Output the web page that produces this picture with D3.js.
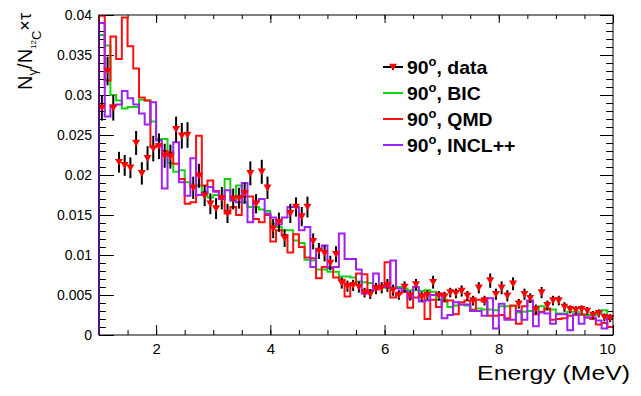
<!DOCTYPE html>
<html><head><meta charset="utf-8">
<script src="https://cdn.jsdelivr.net/npm/d3@7"></script>
<style>body{margin:0;background:#fff}svg{display:block}text{font-family:"Liberation Sans",Arial,sans-serif}</style>
</head><body>
<svg id="c" width="641" height="396"></svg>
<script>
// bin edges: 90 bins of 0.1 MeV from 1 to 10
const binLow = d3.range(90).map(i => +(1 + 0.1 * i).toFixed(1));
const dataVals = [0.0284,0.033,0.0284,0.0216,0.0212,0.0209,0.024,0.0202,0.0221,0.0233,
0.0236,0.0224,0.0223,0.0257,0.0249,0.025,0.0184,0.0199,0.0174,0.0164,
0.0158,0.0171,0.0152,0.017,0.0171,0.0177,0.0202,0.0164,0.0204,0.0184,
0.0133,0.0141,0.0121,0.0152,0.016,0.0148,0.016,0.0117,0.0105,0.0102,
0.009,0.0101,0.0065,0.0061,0.0062,0.006,0.0053,0.0051,0.0058,0.0059,
0.0062,0.0056,0.005,0.006,0.0049,0.0063,0.0048,0.005,0.0066,0.0049,
0.0048,0.0053,0.0052,0.0055,0.0049,0.0043,0.0059,0.0043,0.0068,0.0051,
0.0059,0.0049,0.0064,0.0039,0.0051,0.0046,0.0032,0.0053,0.0037,0.0043,
0.0043,0.0035,0.0032,0.0031,0.0032,0.003,0.0025,0.0027,0.0022,0.0021];
const dataErr = [0.0016,0.0018,0.0016,0.0013,0.0013,0.0013,0.0015,0.0014,0.0015,0.0016,
0.0016,0.0015,0.0015,0.0016,0.0016,0.0016,0.0014,0.0015,0.0013,0.0013,
0.0013,0.0014,0.0012,0.0013,0.0013,0.0013,0.0015,0.0012,0.0015,0.0014,
0.0012,0.0012,0.0011,0.0012,0.0012,0.0012,0.0013,0.001,0.001,0.001,
0.0009,0.001,0.0007,0.0007,0.0007,0.0007,0.0006,0.0006,0.0007,0.0007,
0.0008,0.0007,0.0006,0.0007,0.0006,0.0007,0.0006,0.0006,0.0008,0.0006,
0.0006,0.0006,0.0006,0.0007,0.0006,0.0006,0.0007,0.0006,0.0009,0.0007,
0.0008,0.0007,0.0008,0.0006,0.0007,0.0006,0.0006,0.0007,0.0006,0.0006,
0.0006,0.0006,0.0005,0.0005,0.0005,0.0005,0.0005,0.0005,0.0005,0.0005];
const bicVals = [0.0375,0.0362,0.030,0.0293,0.0283,0.0285,0.0285,0.0294,0.0293,0.0267,
0.0245,0.0245,0.0215,0.0204,0.0206,0.0191,0.0185,0.0187,0.0179,0.0172,
0.0175,0.0172,0.0195,0.0168,0.0187,0.0166,0.016,0.016,0.0157,0.0155,
0.0139,0.0135,0.0131,0.0131,0.0118,0.0115,0.0094,0.0093,0.0082,0.0082,
0.0079,0.0079,0.0073,0.0073,0.0072,0.0067,0.0066,0.0065,0.0061,0.0061,
0.0059,0.0059,0.006,0.0058,0.0056,0.0056,0.0055,0.0056,0.0054,0.0044,
0.0044,0.0035,0.0037,0.0038,0.0037,0.0032,0.0033,0.0032,0.0032,0.0031,
0.0036,0.0036,0.0036,0.0028,0.0029,0.003,0.0029,0.0036,0.0032,0.0032,
0.0027,0.0027,0.0029,0.0029,0.0025,0.0025,0.0025,0.0027,0.0031,0.0022];
const qmdVals = [0.0399,0.0318,0.0373,0.0345,0.0397,0.0361,0.0333,0.0297,0.0293,0.0235,
0.0237,0.023,0.0228,0.0214,0.0195,0.0164,0.0166,0.0249,0.0187,0.0193,
0.018,0.0172,0.0152,0.016,0.015,0.0173,0.0173,0.0145,0.0141,0.015,
0.0117,0.0131,0.0125,0.0103,0.0126,0.011,0.0097,0.0096,0.0071,0.0085,
0.0084,0.0072,0.0069,0.0048,0.0063,0.0077,0.0076,0.0056,0.0057,0.006,
0.0091,0.0047,0.0052,0.0054,0.0034,0.0047,0.0049,0.002,0.0044,0.0035,
0.0042,0.0043,0.0026,0.0041,0.0043,0.0031,0.0044,0.0042,0.0024,0.0024,
0.0025,0.0021,0.0037,0.0014,0.0036,0.0042,0.0026,0.0029,0.0033,0.0019,
0.002,0.0021,0.0024,0.0025,0.0026,0.0022,0.002,0.0013,0.0015,0.001];
const inclVals = [0.039,0.0273,0.0287,0.0288,0.0305,0.0296,0.0288,0.0277,0.0263,0.0291,
0.0243,0.0183,0.0226,0.0241,0.0191,0.0174,0.0221,0.0175,0.0178,0.0185,
0.0179,0.017,0.0181,0.0168,0.0166,0.019,0.0141,0.0167,0.017,0.0152,
0.0147,0.0138,0.0147,0.016,0.016,0.0131,0.0135,0.0085,0.0107,0.0112,
0.0084,0.0085,0.0127,0.0095,0.0095,0.0082,0.0052,0.0055,0.0077,0.006,
0.006,0.0093,0.0058,0.0055,0.0046,0.006,0.0042,0.0043,0.005,0.0052,
0.0021,0.0025,0.0041,0.0038,0.0038,0.003,0.003,0.0024,0.0046,0.0008,
0.0039,0.0019,0.0019,0.003,0.0019,0.0043,0.0011,0.0028,0.0027,0.0014,
0.0026,0.0026,0.0006,0.0026,0.0014,0.0022,0.0022,0.0018,0.0008,0.0021];
const xTicksMajor = [2,4,6,8,10];
const yTicksMajor = [0,0.005,0.01,0.015,0.02,0.025,0.03,0.035,0.04];
const legendLabels = ["data","BIC","QMD","INCL++"];
const colors = {bic:"#14d214", qmd:"#ff1010", incl:"#a020f5"};

const svg = d3.select("#c");
const L=99, R=613, T=15, B=335;
const x = d3.scaleLinear().domain([1,10]).range([L,R]);
const y = d3.scaleLinear().domain([0,0.04]).range([B,T]);

svg.append("defs").append("clipPath").attr("id","clip")
  .append("rect").attr("x",L-1).attr("y",T).attr("width",R-L+2).attr("height",B-T+1);

// axes
const fmt = v => String(+v.toFixed(3));
function styleAxis(g){ g.select(".domain").remove(); g.selectAll("line").attr("stroke","#000").attr("stroke-width",1); }
const yMinor = d3.range(0,0.0401,0.001).map(v=>+v.toFixed(3));
const xMinor = d3.range(1,10.01,0.5).map(v=>+v.toFixed(1));
svg.append("g").attr("transform",`translate(${L},0)`).call(d3.axisLeft(y).tickValues(yMinor).tickSize(-7).tickFormat("")).call(styleAxis);
svg.append("g").attr("transform",`translate(${L},0)`).call(d3.axisLeft(y).tickValues(yTicksMajor).tickSize(-15).tickPadding(7).tickFormat(fmt)).call(styleAxis)
  .selectAll("text").attr("font-size",14).attr("fill","#000");
svg.append("g").attr("transform",`translate(${R},0)`).call(d3.axisRight(y).tickValues(yMinor).tickSize(-7).tickFormat("")).call(styleAxis);
svg.append("g").attr("transform",`translate(${R},0)`).call(d3.axisRight(y).tickValues(yTicksMajor).tickSize(-13).tickFormat("")).call(styleAxis);
svg.append("g").attr("transform",`translate(0,${B})`).call(d3.axisBottom(x).tickValues(xMinor).tickSize(-5).tickFormat("")).call(styleAxis);
const xg = svg.append("g").attr("transform",`translate(0,${B})`).call(d3.axisBottom(x).tickValues(xTicksMajor).tickSize(-10).tickPadding(8).tickFormat(d3.format("d"))).call(styleAxis);
xg.selectAll("text").attr("font-size",15).attr("fill","#000").attr("dy","0.71em")
  .attr("dx", d => d===10 ? -6 : 0);
svg.append("g").attr("transform",`translate(0,${T})`).call(d3.axisTop(x).tickValues(xMinor).tickSize(-4).tickFormat("")).call(styleAxis);
svg.append("g").attr("transform",`translate(0,${T})`).call(d3.axisTop(x).tickValues(xTicksMajor).tickSize(-8).tickFormat("")).call(styleAxis);

// histograms
const plot = svg.append("g").attr("clip-path","url(#clip)");
const stepLine = d3.line().x(d=>x(d[0])).y(d=>y(d[1])).curve(d3.curveStepAfter);
function hist(vals,color){
  const pts = [[1,0]].concat(binLow.map((b,i)=>[b,vals[i]])).concat([[10,vals[vals.length-1]]]);
  plot.append("path").attr("d",stepLine(pts)).attr("fill","none").attr("stroke",color).attr("stroke-width",2);
}
hist(bicVals,colors.bic);
hist(qmdVals,colors.qmd);
hist(inclVals,colors.incl);

// data points
const tri = "M-4,-3.3L4,-3.3L0,3.6Z";
const dg = plot.append("g");
binLow.forEach((b,i)=>{
  const cx = x(b+0.05);
  dg.append("line").attr("x1",cx).attr("x2",cx).attr("y1",y(dataVals[i]-dataErr[i])).attr("y2",y(dataVals[i]+dataErr[i]))
    .attr("stroke","#000").attr("stroke-width",2);
});
binLow.forEach((b,i)=>{
  dg.append("path").attr("d",tri).attr("transform",`translate(${x(b+0.05)},${y(dataVals[i])})`).attr("fill","#ff0000");
});

// frame
svg.append("rect").attr("x",L).attr("y",T).attr("width",R-L).attr("height",B-T).attr("fill","none").attr("stroke","#000").attr("stroke-width",1);

// legend
const legY = [67,93,119,145];
const legColors = ["#000",colors.bic,colors.qmd,colors.incl];
legendLabels.forEach((lab,i)=>{
  const cy = legY[i];
  svg.append("line").attr("x1",383).attr("x2",403).attr("y1",cy).attr("y2",cy).attr("stroke",legColors[i]).attr("stroke-width",2);
  if(i===0){
    svg.append("line").attr("x1",393).attr("x2",393).attr("y1",cy-3).attr("y2",cy+3).attr("stroke","#000").attr("stroke-width",2);
    svg.append("path").attr("d",tri).attr("transform",`translate(393,${cy})`).attr("fill","#ff0000");
  }
  const t = svg.append("text").attr("transform",`translate(407,${cy+6.5}) scale(1.08,1)`).attr("font-size",18).attr("font-weight","bold").attr("fill","#000");
  t.append("tspan").text("90");
  t.append("tspan").attr("font-size",12).attr("dy",-8).text("o");
  t.append("tspan").attr("dy",8).text(", " + lab);
});

// axis titles
svg.append("text").attr("transform","translate(630,380) scale(1.24,1)").attr("text-anchor","end").attr("font-size",20).attr("fill","#000").text("Energy (MeV)");
const yt = svg.append("text").attr("transform","translate(32,13) rotate(-90)").attr("text-anchor","end").attr("font-size",20).attr("fill","#000");
yt.append("tspan").text("N");
yt.append("tspan").attr("font-size",13).attr("dy",5).text("γ");
yt.append("tspan").attr("dy",-5).text("/N");
yt.append("tspan").attr("font-size",8).attr("dy",4).text("12");
yt.append("tspan").attr("font-size",13).attr("dy",5).text("C");
yt.append("tspan").attr("font-size",18).attr("dy",-10).text("×τ");
</script>
</body></html>
